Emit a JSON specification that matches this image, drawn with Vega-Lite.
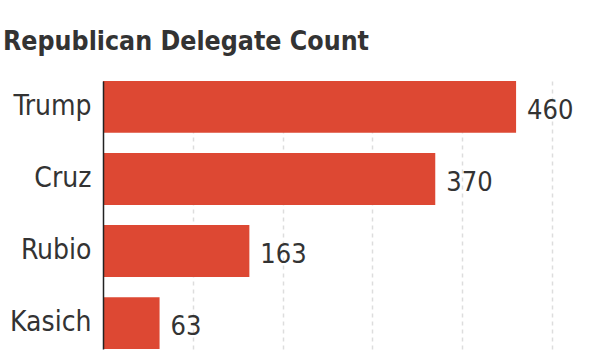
{
  "$schema": "https://vega.github.io/schema/vega-lite/v6.json",
  "autosize": "none",
  "width": 449,
  "height": 268,
  "padding": {"left": 103, "top": 81, "right": 48, "bottom": 3},
  "background": "white",
  "title": {
    "text": "Republican Delegate Count",
    "anchor": "start",
    "frame": "group",
    "orient": "top",
    "dx": -100,
    "offset": 5,
    "baseline": "alphabetic",
    "font": "'DejaVu Sans Condensed', 'Roboto Condensed', 'Liberation Sans Narrow', sans-serif",
    "fontSize": 26.5,
    "fontWeight": "bold",
    "color": "#333333"
  },
  "data": {
    "values": [
      {"candidate": "Trump", "delegates": 460},
      {"candidate": "Cruz", "delegates": 370},
      {"candidate": "Rubio", "delegates": 163},
      {"candidate": "Kasich", "delegates": 63}
    ]
  },
  "config": {"view": {"stroke": null}},
  "encoding": {
    "y": {
      "field": "candidate",
      "type": "nominal",
      "sort": null,
      "scale": {"paddingInner": 0.28, "paddingOuter": 0},
      "axis": {
        "title": null,
        "ticks": false,
        "domainColor": "#222222",
        "domainWidth": 1.5,
        "labelFont": "'DejaVu Sans Condensed', 'Roboto Condensed', 'Liberation Sans Narrow', sans-serif",
        "labelFontSize": 28,
        "labelColor": "#333333",
        "labelPadding": 12,
        "zindex": 1
      }
    },
    "x": {
      "field": "delegates",
      "type": "quantitative",
      "scale": {"domain": [0, 500], "nice": false},
      "axis": {
        "title": null,
        "labels": false,
        "ticks": false,
        "domain": false,
        "values": [100, 200, 300, 400, 500],
        "grid": true,
        "gridDash": [4, 4],
        "gridColor": "#dddddd",
        "gridWidth": 1.5
      }
    }
  },
  "layer": [
    {"mark": {"type": "bar", "color": "#dd4833"}},
    {
      "mark": {
        "type": "text",
        "align": "left",
        "baseline": "middle",
        "dx": 11,
        "dy": 4,
        "font": "'DejaVu Sans Condensed', 'Roboto Condensed', 'Liberation Sans Narrow', sans-serif",
        "fontSize": 27,
        "color": "#333333"
      },
      "encoding": {"text": {"field": "delegates", "type": "quantitative"}}
    }
  ]
}
